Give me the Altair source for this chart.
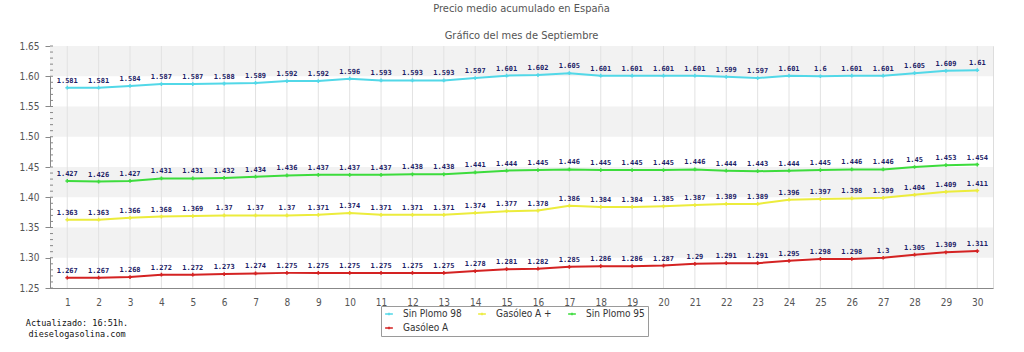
import altair as alt
import pandas as pd

days = list(range(1, 31))
series_names = ["Sin Plomo 98", "Gasóleo A +", "Sin Plomo 95", "Gasóleo A"]
series_colors = ["#52d8e8", "#ecec3c", "#3ddc3d", "#d42222"]

sp98 = [1.581, 1.581, 1.584, 1.587, 1.587, 1.588, 1.589, 1.592, 1.592, 1.596,
        1.593, 1.593, 1.593, 1.597, 1.601, 1.602, 1.605, 1.601, 1.601, 1.601,
        1.601, 1.599, 1.597, 1.601, 1.6, 1.601, 1.601, 1.605, 1.609, 1.61]
gasa_plus = [1.363, 1.363, 1.366, 1.368, 1.369, 1.37, 1.37, 1.37, 1.371, 1.374,
             1.371, 1.371, 1.371, 1.374, 1.377, 1.378, 1.386, 1.384, 1.384, 1.385,
             1.387, 1.389, 1.389, 1.396, 1.397, 1.398, 1.399, 1.404, 1.409, 1.411]
sp95 = [1.427, 1.426, 1.427, 1.431, 1.431, 1.432, 1.434, 1.436, 1.437, 1.437,
        1.437, 1.438, 1.438, 1.441, 1.444, 1.445, 1.446, 1.445, 1.445, 1.445,
        1.446, 1.444, 1.443, 1.444, 1.445, 1.446, 1.446, 1.45, 1.453, 1.454]
gasa = [1.267, 1.267, 1.268, 1.272, 1.272, 1.273, 1.274, 1.275, 1.275, 1.275,
        1.275, 1.275, 1.275, 1.278, 1.281, 1.282, 1.285, 1.286, 1.286, 1.287,
        1.29, 1.291, 1.291, 1.295, 1.298, 1.298, 1.3, 1.305, 1.309, 1.311]

y_ticks = [1.25, 1.30, 1.35, 1.40, 1.45, 1.50, 1.55, 1.60, 1.65]
band_lo = [1.30, 1.40, 1.50, 1.60]
band_hi = [1.35, 1.45, 1.55, 1.65]
minor_ticks = [round(1.25 + 0.01 * i, 2) for i in range(41)]

title_text = "Precio medio acumulado en España"
subtitle_text = "Gráfico del mes de Septiembre"
footer_text = "Actualizado: 16:51h.\ndieselogasolina.com"

rows = []
for name, vals in zip(series_names, [sp98, gasa_plus, sp95, gasa]):
    for d, v in zip(days, vals):
        rows.append({"day": d, "serie": name, "precio": v, "label": str(v)})
df = pd.DataFrame(rows)
bands = pd.DataFrame({"lo": band_lo, "hi": band_hi})
minors = pd.DataFrame({"v": minor_ticks})

FONT = "DejaVu Sans Condensed, DejaVu Sans, sans-serif"

xscale = alt.Scale(domain=[0.45, 30.5], nice=False, zero=False)
yscale = alt.Scale(domain=[1.25, 1.65], nice=False, zero=False)
cscale = alt.Scale(domain=series_names, range=series_colors)

xaxis = alt.Axis(values=days, title=None, grid=False, ticks=False,
                 labelOverlap=False, labelFlush=False,
                 labelPadding=9, labelFont=FONT, labelFontSize=10,
                 labelColor="#555555", domainColor="#888888", format="d")
yaxis = alt.Axis(values=y_ticks, title=None, grid=False, format=".2f",
                 labelOverlap=False, labelFlush=False,
                 tickSize=5, tickColor="#888888", labelPadding=6,
                 labelFont=FONT, labelFontSize=10, labelColor="#555555",
                 domainColor="#888888")

legend_color = alt.Color(
    "serie:N",
    scale=cscale,
    sort=series_names,
    legend=alt.Legend(
        title=None, orient="none", legendX=331, legendY=260, columns=3,
        direction="horizontal", values=series_names,
        strokeColor="#9a9a9a", padding=3, rowPadding=4, columnPadding=13,
        labelFont=FONT, labelFontSize=10, labelColor="#333333", labelOffset=9,
        symbolType="M-1,0H1M0,-0.35V0.35", symbolSize=60, symbolStrokeWidth=1.5,
        fillColor="white",
    ),
)
plain_color = alt.Color("serie:N", scale=cscale, sort=series_names, legend=None)

band_layer = alt.Chart(bands).mark_rect(color="#f2f2f2").encode(
    y=alt.Y("lo:Q", scale=yscale, axis=yaxis), y2="hi:Q"
)

grid_layer = alt.Chart(pd.DataFrame({"d": days})).mark_rule(color="#e2e2e2", strokeWidth=1).encode(
    x=alt.X("d:Q", scale=xscale, axis=xaxis)
)

minor_layer = alt.Chart(minors).mark_rule(color="#888888", strokeWidth=1).encode(
    x=alt.value(0), x2=alt.value(3), y=alt.Y("v:Q", scale=yscale, axis=yaxis)
)

line_layer = alt.Chart(df).mark_line(strokeWidth=2).encode(
    x=alt.X("day:Q", scale=xscale, axis=xaxis),
    y=alt.Y("precio:Q", scale=yscale, axis=yaxis),
    color=legend_color,
)

point_layer = alt.Chart(df).mark_point(
    shape="M-1,0H1M0,-1V1", filled=False, strokeWidth=1.5, size=14, opacity=1
).encode(
    x=alt.X("day:Q", scale=xscale, axis=xaxis),
    y=alt.Y("precio:Q", scale=yscale, axis=yaxis),
    color=plain_color,
)

text_layer = alt.Chart(df).mark_text(
    font="DejaVu Sans Mono", fontSize=7, fontWeight="bold", color="#1c1c66",
    baseline="middle", dy=-7
).encode(
    x=alt.X("day:Q", scale=xscale, axis=xaxis),
    y=alt.Y("precio:Q", scale=yscale, axis=yaxis),
    text="label:N",
)

footer_layer = alt.Chart(pd.DataFrame({"t": [footer_text]})).mark_text(
    font="DejaVu Sans Mono", fontSize=8.5, color="#111111", align="center",
    baseline="middle", lineBreak="\n", lineHeight=11
).encode(
    x=alt.value(27), y=alt.value(277), text="t:N"
)

chart = alt.layer(
    band_layer, grid_layer, minor_layer, line_layer, point_layer, text_layer, footer_layer
).properties(
    width=943, height=242,
    padding={"left": 50, "top": 46, "right": 31, "bottom": 64},
    autosize=alt.AutoSizeParams(type="none"),
    title=alt.TitleParams(
        text=title_text, subtitle=subtitle_text, anchor="middle", offset=0,
        font=FONT, fontSize=11, fontWeight="normal", color="#555555",
        subtitleFont=FONT, subtitleFontSize=11, subtitleColor="#555555",
        subtitlePadding=16,
    ),
).configure_view(stroke=None).configure_axis(
    labelOverlap=False
).configure(background="white")

chart.save("out.html", embed_options={"renderer": "svg", "actions": False})
